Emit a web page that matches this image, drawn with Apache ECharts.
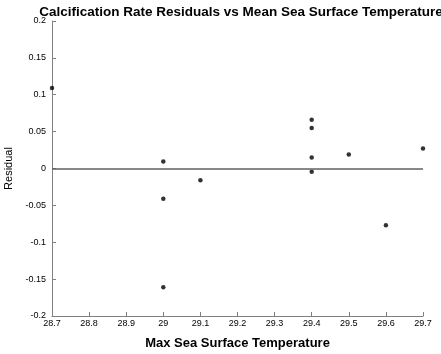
<!DOCTYPE html>
<html>
<head>
<meta charset="utf-8">
<script src="https://cdn.jsdelivr.net/npm/echarts@6/dist/echarts.min.js"></script>
<style>
  html, body { margin: 0; padding: 0; background: #fff; }
  #chart { width: 441px; height: 354px; }
</style>
</head>
<body>
<div id="chart"></div>
<script>
// Max sea surface temperature (°C) per site
const temperature = [28.7, 29.0, 29.0, 29.0, 29.1, 29.4, 29.4, 29.4, 29.4, 29.5, 29.6, 29.7];
// Calcification rate residuals
const residual = [0.109, 0.0095, -0.041, -0.161, -0.016, 0.066, 0.055, 0.015, -0.0045, 0.019, -0.077, 0.027];

const xTicks = [28.7, 28.8, 28.9, 29, 29.1, 29.2, 29.3, 29.4, 29.5, 29.6, 29.7];
const yTicks = [-0.2, -0.15, -0.1, -0.05, 0, 0.05, 0.1, 0.15, 0.2];

const points = temperature.map((t, i) => [t, residual[i]]);

const chart = echarts.init(document.getElementById('chart'), null, { renderer: 'canvas' });
const fontFam = '"Liberation Sans", Arial, sans-serif';
const axisColor = '#808080';

chart.setOption({
  animation: false,
  backgroundColor: '#ffffff',
  title: {
    text: 'Calcification Rate Residuals vs Mean Sea Surface Temperature',
    left: 236, top: 0, textAlign: 'center',
    textStyle: { fontFamily: fontFam, fontSize: 13.5, fontWeight: 'bold', color: '#000' }
  },
  grid: { left: 52, right: 18, top: 21, bottom: 38, outerBoundsMode: 'none', containLabel: false },
  xAxis: {
    type: 'value',
    min: xTicks[0], max: xTicks[xTicks.length - 1], interval: 0.1,
    name: 'Max Sea Surface Temperature',
    nameLocation: 'middle', nameGap: 21,
    nameTextStyle: { fontFamily: fontFam, fontSize: 13, fontWeight: 'bold', color: '#000' },
    axisLine: { onZero: false, lineStyle: { color: axisColor, width: 1 } },
    axisTick: { inside: true, length: 4, lineStyle: { color: axisColor } },
    splitLine: { show: false },
    axisLabel: {
      fontFamily: fontFam, fontSize: 9, color: '#000', margin: 3,
      formatter: v => {
        const t = xTicks.find(x => Math.abs(x - v) < 1e-6);
        return t === undefined ? '' : String(t);
      }
    }
  },
  yAxis: {
    type: 'value',
    min: yTicks[0], max: yTicks[yTicks.length - 1], interval: 0.05,
    name: 'Residual',
    nameLocation: 'middle', nameGap: 37,
    nameTextStyle: { fontFamily: fontFam, fontSize: 11, color: '#000' },
    axisLine: { show: true, lineStyle: { color: axisColor, width: 1 } },
    axisTick: { show: true, inside: true, length: 4, lineStyle: { color: axisColor } },
    splitLine: { show: false },
    axisLabel: {
      fontFamily: fontFam, fontSize: 9, color: '#000', margin: 6,
      formatter: v => {
        const t = yTicks.find(y => Math.abs(y - v) < 1e-6);
        return t === undefined ? '' : String(t);
      }
    }
  },
  series: [{
    type: 'scatter',
    data: points,
    symbol: 'circle',
    symbolSize: 4.5,
    itemStyle: { color: '#000' },
    markLine: {
      silent: true,
      symbol: 'none',
      label: { show: false },
      lineStyle: { color: '#606060', width: 1.5, type: 'solid' },
      data: [[{ coord: [xTicks[0], 0] }, { coord: [xTicks[xTicks.length - 1], 0] }]]
    }
  }]
});
</script>
</body>
</html>
